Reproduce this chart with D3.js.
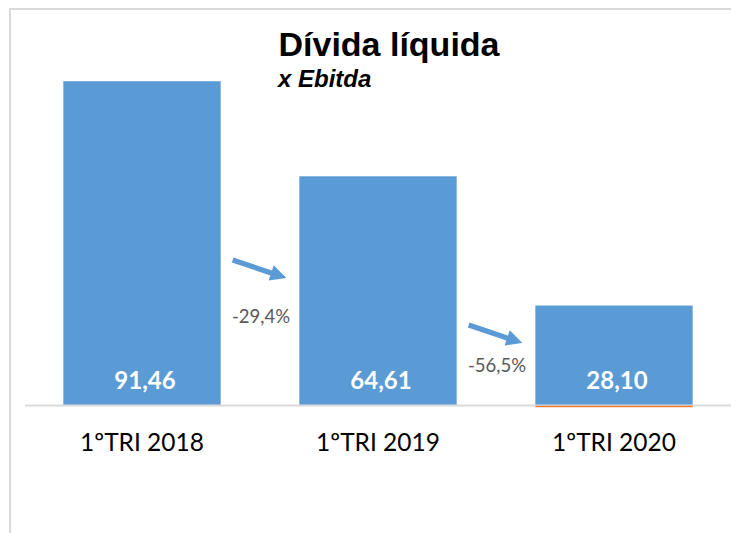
<!DOCTYPE html>
<html>
<head>
<meta charset="utf-8">
<script src="https://cdn.jsdelivr.net/npm/d3@7"></script>
<style>
  html, body { margin: 0; padding: 0; background: #fff; }
  svg { display: block; }
</style>
</head>
<body>
<svg id="chart" width="731" height="533"></svg>
<script>
// ---- data ----
const categories = ["1ºTRI 2018", "1ºTRI 2019", "1ºTRI 2020"];
const values = [91.46, 64.61, 28.10];
const valueLabels = ["91,46", "64,61", "28,10"];
const changeLabels = ["-29,4%", "-56,5%"];
const title = "Dívida líquida";
const subtitle = "x Ebitda";

// ---- layout ----
const svg = d3.select("#chart");
const W = 731, H = 533;
const baseY = 405;

// outer frame
svg.append("rect")
  .attr("x", 10).attr("y", 9)
  .attr("width", W + 20).attr("height", H + 20)
  .attr("fill", "#fff")
  .attr("stroke", "#d9d9d9").attr("stroke-width", 2);

const x = d3.scaleBand()
  .domain(categories)
  .range([24, 732])
  .paddingInner(1/3)
  .paddingOuter(1/6);

const y = d3.scaleLinear()
  .domain([0, 100])
  .range([baseY, 51]);

// bars
svg.selectAll("rect.bar")
  .data(values)
  .join("rect")
  .attr("class", "bar")
  .attr("x", (d, i) => x(categories[i]))
  .attr("y", d => y(d))
  .attr("width", x.bandwidth())
  .attr("height", d => y(0) - y(d))
  .attr("fill", "#5b9bd5");

// axis line
const axis = d3.axisBottom(x).tickSize(0).tickPadding(26);
const gAxis = svg.append("g")
  .attr("transform", `translate(0,${baseY + 0.5})`)
  .call(axis);
gAxis.select(".domain")
  .attr("d", "M25,0H731")
  .attr("stroke", "#d9d9d9").attr("stroke-width", 2);
gAxis.selectAll(".tick text")
  .attr("dy", 0)
  .attr("y", 45)
  .attr("fill", "#000")
  .attr("font-family", "Lato, 'Open Sans', sans-serif")
  .attr("font-size", 24.5);

// orange underline on last bar
const last = categories[categories.length - 1];
svg.append("line")
  .attr("x1", x(last)).attr("x2", x(last) + x.bandwidth())
  .attr("y1", baseY + 1.5).attr("y2", baseY + 1.5)
  .attr("stroke", "#ed7d31").attr("stroke-width", 1.5);

// value labels
svg.selectAll("text.val")
  .data(valueLabels)
  .join("text")
  .attr("class", "val")
  .attr("x", (d, i) => x(categories[i]) + x.bandwidth() / 2 + 3)
  .attr("y", baseY - 16)
  .attr("text-anchor", "middle")
  .attr("fill", "#fff")
  .attr("font-family", "Lato, 'Open Sans', sans-serif")
  .attr("font-weight", "bold")
  .attr("font-size", 24)
  .text(d => d);

// change annotations: arrows + percent labels
const arrowY = [[260, 278], [325, 343]];
const labelY = [322.5, 371.5];

function arrowPath(x0, y0, x1, y1) {
  const dx = x1 - x0, dy = y1 - y0;
  const L = Math.hypot(dx, dy);
  const ux = dx / L, uy = dy / L;
  const px = -uy, py = ux;
  const headLen = 16, headHalf = 8, shaftHalf = 2.6;
  const bx = x1 - ux * headLen, by = y1 - uy * headLen;
  const p = [
    [x0 + px * shaftHalf, y0 + py * shaftHalf],
    [bx + px * shaftHalf, by + py * shaftHalf],
    [bx + px * headHalf, by + py * headHalf],
    [x1, y1],
    [bx - px * headHalf, by - py * headHalf],
    [bx - px * shaftHalf, by - py * shaftHalf],
    [x0 - px * shaftHalf, y0 - py * shaftHalf]
  ];
  return "M" + p.map(q => q.join(",")).join("L") + "Z";
}

changeLabels.forEach((lab, i) => {
  const x0 = x(categories[i]) + x.bandwidth();
  const x1 = x(categories[i + 1]);
  const mid = (x0 + x1) / 2;
  svg.append("path")
    .attr("d", arrowPath(x0 + 12, arrowY[i][0], x1 - 13, arrowY[i][1]))
    .attr("fill", "#5b9bd5");
  svg.append("text")
    .attr("x", mid + 1)
    .attr("y", labelY[i])
    .attr("text-anchor", "middle")
    .attr("fill", "#595959")
    .attr("font-family", "Lato, 'Open Sans', sans-serif")
    .attr("font-size", 18.5)
    .text(lab);
});

// titles
svg.append("text")
  .attr("x", 389).attr("y", 56)
  .attr("text-anchor", "middle")
  .attr("font-family", "'Liberation Sans', Arial, sans-serif")
  .attr("font-weight", "bold")
  .attr("font-size", 34)
  .attr("fill", "#000")
  .text(title);
svg.append("text")
  .attr("x", 278).attr("y", 87)
  .attr("font-family", "'Liberation Sans', Arial, sans-serif")
  .attr("font-weight", "bold")
  .attr("font-style", "italic")
  .attr("font-size", 24)
  .attr("fill", "#000")
  .text(subtitle);
</script>
</body>
</html>
